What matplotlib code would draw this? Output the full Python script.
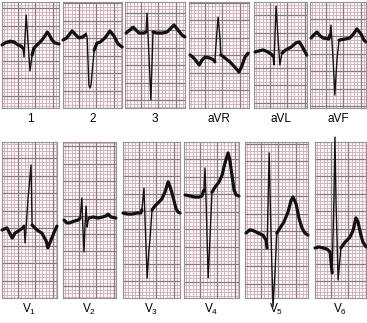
import numpy as np
import matplotlib.pyplot as plt

# Lead names as printed under each strip
labels_top = ['1', '2', '3', 'aVR', 'aVL', 'aVF']
labels_bottom = ['V$_1$', 'V$_2$', 'V$_3$', 'V$_4$', 'V$_5$', 'V$_6$']

# Traced complexes: time in small boxes (1 mm = 40 ms), amplitude in mm from baseline
t_1 = [0, 0.9, 2.3, 3.4, 4.6, 5.4, 6.0, 6.3, 6.9, 7.4, 8.0, 8.6, 9.1, 10.3, 11.4, 12.6, 12.9, 13.4, 14.3, 15.1, 16.3]
a_1 = [0, 0.6, 1.1, 0.9, 0, -0.3, -0.9, -3.4, 8.6, 1.4, -7.4, -2.9, -0.9, 0.3, 1.4, 3.1, 3.7, 3.1, 1.4, 0.6, 0.3]

t_2 = [0, 1.1, 2.6, 3.7, 4.6, 5.7, 6.3, 6.6, 6.9, 7.4, 7.7, 8.0, 8.9, 9.7, 10.6, 12.0, 13.4, 14.6, 15.7, 16.9]
a_2 = [0, 0.6, 2.6, 1.4, 0.6, 0.9, 1.4, 2.0, 0.6, -12.9, -13.7, -12.9, -2.9, -0.9, -0.6, 0.6, 2.6, 1.1, -1.1, -2.0]

t_3 = [0.3, 1.4, 2.3, 3.1, 4.0, 5.4, 6.0, 6.3, 6.9, 7.4, 8.0, 9.1, 10.6, 12.0, 13.1, 14.0, 15.1, 16.3, 17.1]
a_3 = [-0.3, 0.6, 1.4, 0.6, -0.3, -0.3, 0, 5.4, -8.0, -19.4, 0, -0.3, -0.3, 0, 1.1, 2.0, 0.6, -0.9, -1.4]

t_avr = [0.3, 1.4, 2.9, 3.7, 4.6, 6.0, 7.1, 7.4, 7.7, 8.3, 8.9, 9.1, 10.3, 11.7, 13.1, 14.3, 15.1, 16.0, 16.9]
a_avr = [0.6, -0.3, -2.3, -0.9, 0, -0.3, -0.9, -1.4, 3.4, 11.4, 4.9, 0.6, -0.3, -1.4, -2.9, -4.3, -2.6, 0, 1.1]

t_avl = [0.3, 1.4, 2.6, 4.0, 4.9, 5.4, 5.7, 6.3, 6.9, 7.4, 8.0, 9.1, 10.6, 12.0, 12.9, 13.7, 14.6, 15.1]
a_avl = [0, 0.3, 0.6, 0, -0.6, -1.1, -3.7, 13.1, 3.4, -3.7, -0.3, 0.6, 1.4, 2.6, 2.9, 1.7, 0, -0.9]

t_avf = [0.3, 1.1, 2.0, 2.9, 3.7, 5.4, 5.7, 6.0, 6.6, 7.1, 7.7, 8.3, 10.0, 11.4, 12.6, 13.4, 14.6, 15.4, 16.0]
a_avf = [0, 0.9, 1.7, 0.6, 0, -0.3, 0.9, 3.7, -6.3, -16.3, -6.3, -0.6, -0.3, 0, 1.4, 2.6, 1.1, -0.6, -1.1]

t_v1 = [0, 1.4, 2.3, 2.9, 3.7, 5.1, 6.0, 6.3, 6.6, 7.4, 8.3, 8.6, 10.0, 11.4, 12.6, 13.1, 14.0, 14.9, 15.7]
a_v1 = [0, 0.6, -1.1, -2.3, -0.9, 0, 0.6, 1.1, -3.7, 8.6, 18.6, 1.4, 0, -0.9, -3.1, -5.1, -2.9, -0.6, 1.1]

t_v2 = [0.3, 1.1, 2.0, 3.1, 4.3, 4.9, 5.1, 5.4, 5.7, 6.0, 6.3, 6.6, 6.9, 7.1, 7.4, 8.6, 10.0, 11.4, 12.3, 12.9, 13.7, 15.1]
a_v2 = [-0.6, -1.4, -1.4, -0.9, -0.6, 0, 2.3, 5.7, -3.4, -9.7, -2.0, 3.4, -2.6, -1.1, 0, 0.3, 0, 0.3, 0.6, 1.1, 0.3, 0]

t_v3 = [0, 1.4, 2.6, 4.0, 5.1, 5.4, 6.0, 6.3, 6.9, 7.4, 7.7, 8.0, 8.3, 9.1, 10.0, 11.1, 12.0, 12.9, 13.4, 14.3, 15.1, 15.7, 16.3]
a_v3 = [0, -0.3, -0.3, 0, 0, 0.9, 7.1, -2.0, -18.6, -10.6, -7.7, -3.4, 0.9, 2.0, 2.9, 4.0, 6.0, 8.9, 7.7, 4.6, 1.4, 0.3, 0]

t_v4 = [0.3, 1.7, 3.1, 4.3, 5.1, 5.7, 6.0, 6.3, 6.9, 7.4, 8.0, 8.9, 10.0, 10.9, 11.7, 12.6, 13.1, 13.7, 14.3, 14.9, 15.7]
a_v4 = [0.3, 0, -0.3, -0.3, 0, 1.7, 8.0, -1.1, -23.4, -12.6, 1.1, 2.6, 4.0, 6.0, 9.4, 12.3, 10.3, 6.0, 1.7, 0.3, 0]

t_v5 = [0.3, 1.4, 2.6, 3.7, 5.1, 6.0, 6.3, 6.6, 6.9, 7.4, 8.0, 8.6, 9.1, 10.0, 11.1, 12.3, 13.1, 13.7, 14.6, 15.4, 16.3, 17.1, 18.0]
a_v5 = [0, 0.9, 0.6, 0, -0.6, -2.0, -4.3, 9.4, 22.9, 0.9, -21.1, -10.6, 0, 1.4, 3.1, 6.0, 9.1, 10.3, 8.3, 4.3, 1.4, 0, -0.6]

t_v6 = [0, 1.1, 2.3, 3.4, 4.3, 4.9, 5.4, 5.7, 6.0, 6.6, 7.1, 7.4, 8.6, 10.0, 10.9, 11.7, 12.3, 13.1, 13.7, 14.6]
a_v6 = [0, 0.3, 0, -0.3, -1.1, -7.1, 13.7, 31.7, 13.7, -9.1, -3.4, 0, 1.7, 3.1, 5.1, 8.6, 7.4, 3.7, 1.7, 0.3]

# QRS window (fast deflections print thin on the strip)
qrs_top = [(6.0, 8.6), (6.3, 8.9), (6.0, 8.0), (7.4, 9.1), (5.4, 8.0), (5.7, 8.3)]
qrs_bottom = [(6.3, 8.6), (4.9, 7.4), (5.4, 8.3), (5.7, 8.0), (6.3, 9.1), (4.9, 7.4)]

top_traces = [(t_1, a_1), (t_2, a_2), (t_3, a_3), (t_avr, a_avr), (t_avl, a_avl), (t_avf, a_avf)]
bottom_traces = [(t_v1, a_v1), (t_v2, a_v2), (t_v3, a_v3), (t_v4, a_v4), (t_v5, a_v5), (t_v6, a_v6)]

# panel boxes in pixels: left, right, baseline row
top_boxes = [(2, 59, 45), (63, 122, 40), (125, 185, 32), (189, 249, 57), (254, 307, 52), (310, 366, 38)]
bottom_boxes = [(2, 57, 230), (63, 116, 218), (123, 180, 213), (184, 239, 196), (245, 308, 233), (315, 366, 248)]

W, H = 367, 323
PX_MM = 3.5

plt.rcParams['mathtext.fontset'] = 'custom'
plt.rcParams['mathtext.rm'] = 'Liberation Sans'
plt.rcParams['mathtext.it'] = 'Liberation Sans'

fig = plt.figure(figsize=(W / 100, H / 100), dpi=100)
fig.patch.set_facecolor('white')


def strip(box, top, bottom, trace, qrs, label):
    left, right, base = box
    ax = fig.add_axes([left / W, 1 - bottom / H, (right - left) / W, (bottom - top) / H])
    w = (right - left) / PX_MM
    ylo = (base - bottom) / PX_MM
    yhi = (base - top) / PX_MM
    ax.set_xlim(0, w)
    ax.set_ylim(ylo, yhi)
    ax.set_facecolor('#fbf7f8')

    # 1 mm paper, heavier line every 5 mm
    for x in np.arange(0.5, w, 1.0):
        major = int(round(x - 0.5)) % 5 == 4
        ax.axvline(x, color='#857b7f' if major else '#cdaeb5',
                   lw=0.9 if major else 0.6, zorder=2 if major else 1)
    for y in np.arange(np.floor(ylo) + 0.5, yhi, 1.0):
        major = int(round(y - 0.5)) % 5 == 0
        ax.axhline(y, color='#857b7f' if major else '#cdaeb5',
                   lw=0.9 if major else 0.6, zorder=2 if major else 1)

    t = np.array(trace[0])
    a = np.array(trace[1])
    ax.plot(t, a, color='#111111', lw=1.0, zorder=3, clip_on=False,
            solid_capstyle='round', solid_joinstyle='round')
    on, off = qrs
    pre = t <= on
    post = t >= off
    ax.plot(t[pre], a[pre], color='#111111', lw=2.3, zorder=3, clip_on=False,
            solid_capstyle='round', solid_joinstyle='round')
    ax.plot(t[post], a[post], color='#111111', lw=2.3, zorder=3, clip_on=False,
            solid_capstyle='round', solid_joinstyle='round')

    ax.set_xticks([])
    ax.set_yticks([])
    for s in ax.spines.values():
        s.set_color('#9a9094')
        s.set_linewidth(0.8)

    fig.text((left + right) / 2 / W, 1 - (bottom + 11) / H, label,
             ha='center', va='center', fontsize=8.5, family='Liberation Sans')


for i in range(6):
    strip(top_boxes[i], 2, 108, top_traces[i], qrs_top[i], labels_top[i])
for i in range(6):
    strip(bottom_boxes[i], 142, 298, bottom_traces[i], qrs_bottom[i], labels_bottom[i])

fig.savefig('out.png', dpi=100)
